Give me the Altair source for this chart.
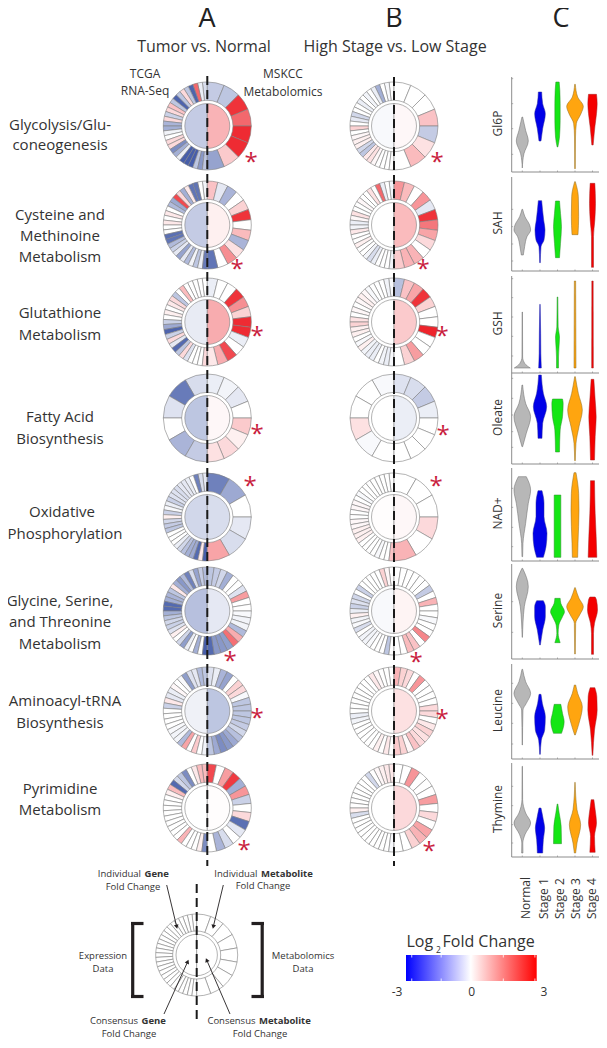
import math
import altair as alt
import pandas as pd

FONT = "Open Sans"
TXT = "#333333"

# ---------- donut values (log2 fold change) ----------
# gene lists run from the top of the left half down; metabolite lists from the top of the right half down
pathways = ["glyc", "cys", "gsh", "fa", "oxphos", "gly", "trna", "pyr"]

A_gene = {
 "glyc": [-0.6,-0.3,2.0,-2.7,-1.0,0.5,-1.0,-2.7,-1.0,0.8,0.5,-0.8,0.5,-1.3,-1.4,-0.2,0,0.5,0.5,-2.0,-1.4,-0.3,-2.8,-2.8,-2.8,-1.0,-1.8,-1.0],
 "cys": [-0.2,0,-2.4,-2.4,0.3,-1.4,0.5,2.4,-1.5,-1.2,0,0.3,0,0.3,0,0,-2.5,-2.4,-1.2,-0.8,-0.4,-1.6,-0.4,-1.2,-0.2,-1.0,-0.3,-2.3],
 "gsh": [0,0,0,0,0,0.9,0,-1.0,0.5,0.3,0,0.2,0,-0.8,-1.5,-2.7,-0.8,0.5,-0.4,-2.6,-1.0,0.5,-0.5,0,0,0,0.5],
 "fa": [-0.6,-2.3,-0.5,0,-1.3,-0.9],
 "oxphos": [-0.4,-0.6,-2.2,0,-0.3,-0.4,-0.4,-0.6,-0.5,-0.5,-0.8,-0.3,-0.1,-0.8,0.2,-0.7,-0.9,-1.0,0,0,0,-0.3,-0.7,-1.1,-1.4,-1.5,-2.6,0.3,-2.8],
 "gly": [-1.2,-0.9,-1.6,-0.6,-2.2,-1.2,-1.8,-1.4,0.3,-1.0,-1.3,-1.4,-2.6,-2.6,-1.4,-1.0,-0.7,-0.8,-0.5,0.2,0,-0.7,-1.7,-0.3,0,-1.4,0,-2.8],
 "trna": [-1.0,-1.2,-0.4,-0.5,-1.7,-0.1,0,0.1,-0.3,-0.4,0.3,-0.8,0,0,0,0,-0.1,-0.2,-0.2,-1.2,1.2,0,0.7,0,-0.2],
 "pyr": [0.9,0.9,0.3,0,-2.0,-1.0,-0.7,-2.6,0.9,0.2,0,0,0,0,0,0,0,0,0,1.0,0,0,0,0.2,-2.0],
}
A_met = {
 "glyc": [-0.9,-1.0,2.7,2.0,2.8,2.8,0.7,-1.6],
 "cys": [0.8,-0.4,-1.3,0,0.6,2.7,0,0.9,-1.3,0.4,1.5,0,-2.4],
 "gsh": [-0.3,0,0,2.7,1.5,0.6,2.8,2.8,-0.3,0,2.4,1.1,0.3],
 "fa": [-0.3,-0.2,-0.4,0,0.7,0.2,0.5,0.4],
 "oxphos": [-2.2,-1.5,0,-0.4,-0.6,1.2],
 "gly": [-1.0,-0.9,-0.7,-1.4,0,0,-0.5,1.3,0,0,-0.1,-0.2,-0.2,-1.2,1.1,1.9,-1.7,-1.8,-1.8,-2.6],
 "trna": [-0.5,-0.3,-1.3,-1.6,0,0.6,0.5,-0.1,-1.0,-1.0,-1.0,-1.0,-0.9,-0.7,-1.1,-1.5,-1.8,-2.0,-1.5,-1.0],
 "pyr": [2.4,0,1.3,2.6,-1.4,1.4,-0.8,0,0.5,-2.5,-0.4,0,-0.6,-1.3,0],
}
A_cons = {"glyc": (-0.9,1.0), "cys": (-0.9,0.2), "gsh": (-0.35,1.1), "fa": (-1.0,0.1),
          "oxphos": (-0.7,-0.6), "gly": (-1.1,-0.4), "trna": (-0.25,-1.0), "pyr": (0,0.03)}

B_gene = {
 "glyc": [0,-0.1,0,-1.4,-0.3,0,-0.2,0,-0.3,0,0,-0.7,-0.4,0,0.6,0,0.1,0.2,0.2,-0.7,-1.0,0.3,0.4,0.1,0,0,0,0],
 "cys": [-0.2,0,-0.3,2.0,0,0.4,0,0,0.1,0,0,0.4,0.1,-0.3,-0.2,0.3,0,0,0.2,0,0,-0.2,-0.6,-0.3,0,0,0,-0.2],
 "gsh": [-0.1,-0.2,0,0,0,-0.1,0.1,0.2,0.1,0,0.1,0,0.4,0.6,0.2,0.2,0,-0.1,0.2,-0.2,-0.3,-0.3,0,-0.2,-0.3,-0.1],
 "fa": [-0.1,0,0,0.4,-0.1,0],
 "oxphos": [0,0,0,0,0,0,0,0,-0.1,0,0.1,0.1,0,0,0.1,0.1,0.2,0.2,0.2,0,0,0,0,-0.1,0,0,0.8],
 "gly": [0,0.1,0.6,0,0,0,0,0,-0.8,0,-0.7,-0.5,-0.8,-0.3,0.2,-0.2,-0.1,-0.6,0,-0.2,-0.2,-0.1,0,0,0,-1.0,0],
 "trna": [0,0,0,0.1,0.3,0,0,0,0,0,0,0,0,-0.3,-0.2,0,0,0,0,0,0,0.2,0,0.3,0],
 "pyr": [0.3,0.3,0.2,0.1,0,-0.7,0,0,0,0,0,0,0,0.2,-0.6,0,0,0,0,0,0,0,0,0,0,-0.1],
}
B_met = {
 "glyc": [0,0,0,0.8,-0.9,0.4,0.9,0],
 "cys": [1.4,0.9,0,1.4,-0.4,2.7,1.8,1.2,0.5,0,1.0,1.0,0.7],
 "gsh": [-1.1,0.8,1.2,2.7,0.6,0,0,2.9,0,0,1.3,0.6,0],
 "fa": [-0.5,-0.6,-0.9,-0.3,0,0,0,0],
 "oxphos": [0,0,0,0.5,0,1.0],
 "gly": [0,0,0,0,0,0,-0.9,0,1.0,0,0,-0.1,0,0,1.6,0,0.8,0.9,0,0],
 "trna": [1.0,0.6,0.5,0,1.4,0,0,0,0,0.5,0.5,0,0.3,0.6,0.4,0.5,0.8,0.1,0.6,0.7],
 "pyr": [0,0,1.4,0,0,0,1.3,0,0.5,0,1.2,1.0,0.6,0,0],
}
B_cons = {"glyc": (-0.1,0.1), "cys": (0,0.9), "gsh": (0,0.7), "fa": (0,-0.3),
          "oxphos": (0.03,0.1), "gly": (-0.1,0.15), "trna": (0,0.4), "pyr": (0,0.5)}

row_y = [126, 225, 322, 418, 517, 611, 711, 808]
A_X, B_X = 207.3, 394.0
R_OUT, R_RING, R_CORE = 44.0, 25.7, 22.5

def wedges(cx, cy, gene, met, cons, r_out=R_OUT, r_ring=R_RING, r_core=R_CORE):
    w, c = [], []
    n = len(gene)
    for i, v in enumerate(gene):
        w.append(dict(cx=cx, cy=cy, t0=2*math.pi-(i+1)*math.pi/n, t1=2*math.pi-i*math.pi/n, r0=r_out, r1=r_ring, v=v))
    m = len(met)
    for i, v in enumerate(met):
        w.append(dict(cx=cx, cy=cy, t0=i*math.pi/m, t1=(i+1)*math.pi/m, r0=r_out, r1=r_ring, v=v))
    c.append(dict(cx=cx, cy=cy, t0=math.pi, t1=2*math.pi, r0=r_core, r1=0, v=cons[0]))
    c.append(dict(cx=cx, cy=cy, t0=0, t1=math.pi, r0=r_core, r1=0, v=cons[1]))
    return w, c

ring, core = [], []
for k, p in enumerate(pathways):
    for cx, G, M, C in ((A_X, A_gene, A_met, A_cons), (B_X, B_gene, B_met, B_cons)):
        w, c = wedges(cx, row_y[k], G[p], M[p], C[p])
        ring += w
        core += c
w, c = wedges(196.7, 955, [0]*27, [0]*9, (0, 0), 41, 24, 20.7)
ring += w
core += c

# ---------- violins: (abundance level, density) pairs ----------
panel_names = ["Gl6P", "SAH", "GSH", "Oleate", "NAD+", "Serine", "Leucine", "Thymine"]
panel_top = [77, 177, 276, 373, 468, 564, 664, 763]
panel_bottom = [172, 271, 373, 464, 561, 659, 759, 857]
panel_ticks = [[280,205,130,53],[185,133,81,30],[283,226,168,110,51],[257,197,147,97,50],
               [218,161,101,43],[172,80],[227,167,107,45],[212,154,97,42]]
stages = ["Normal", "Stage 1", "Stage 2", "Stage 3", "Stage 4"]
stage_fill = ["#b7b7b7", "#0000e8", "#14e614", "#ffa50f", "#f40000"]
stage_edge = ["#666666", "#2a2a9a", "#2a8a2a", "#8a6a20", "#a02020"]
stage_x = [522.3, 540.0, 557.5, 575.0, 592.5]

violins = [
 [[(12,0),(55,5),(93,18),(125,10),(165,1)],
  [(93,3),(130,8),(175,16),(205,8),(240,5)],
  [(75,1),(105,6),(155,8),(205,8),(245,7),(270,5)],
  [(10,1),(105,1.5),(145,4),(175,18),(197,25),(225,8),(263,1)],
  [(81,2),(135,7),(175,12),(205,14),(233,12)]],
 [[(48,3),(73,7),(103,14),(123,25),(138,22),(163,8),(185,1)],
  [(25,1),(73,3),(93,12),(123,15),(153,11),(211,5)],
  [(40,6),(83,9),(133,12),(173,9),(210,6)],
  [(109,9),(163,11),(223,10),(268,1)],
  [(11,3),(103,3),(153,7),(203,9),(263,7)]],
 [[(15,24),(28,8),(48,1),(183,0.5)],
  [(15,4),(58,2.5),(118,2),(206,0.5)],
  [(15,3),(48,3),(108,6),(138,2),(228,1)],
  [(15,3),(276,2)],
  [(15,2.5),(276,2)]],
 [[(52,1),(92,12),(142,25),(182,10),(237,1)],
  [(77,6),(122,8),(172,20),(212,10),(267,4)],
  [(36,6),(102,8),(142,15),(182,17),(195,15)],
  [(10,1),(62,3),(112,12),(162,22),(212,10),(262,1)],
  [(12,6),(82,8),(142,11),(192,8),(254,4)]],
 [[(13,1),(53,2),(113,10),(173,18),(213,25),(253,12)],
  [(11,10),(43,18),(83,21),(133,12),(173,12),(211,6)],
  [(11,10),(198,10)],
  [(11,8),(53,9),(153,12),(203,11),(265,3)],
  [(11,13),(73,11),(143,8),(241,6)]],
 [[(65,0.5),(157,6),(217,18),(272,1)],
  [(42,1),(87,8),(127,16),(157,16),(175,10)],
  [(49,8),(77,2),(102,4),(127,15),(142,21),(167,10),(182,8)],
  [(15,1),(107,2),(132,14),(157,25),(182,12),(214,1)],
  [(14,3),(77,3),(107,6),(147,15),(177,12),(186,8)]],
 [[(42,0.5),(147,2),(167,12),(197,25),(232,10),(269,1)],
  [(14,1),(57,4),(87,14),(127,16),(167,7),(194,3)],
  [(77,12),(112,20),(137,15),(164,10)],
  [(72,1),(107,12),(157,22),(197,8),(222,2)],
  [(11,1),(87,6),(147,14),(187,13),(214,7)]],
 [[(12,2),(42,1.5),(67,8),(102,25),(132,10),(172,1),(272,0.5)],
  [(12,8),(52,10),(87,14),(112,10),(147,3)],
  [(40,12),(92,11),(132,5),(159,1)],
  [(12,2),(42,6),(97,17),(142,6),(224,0.5)],
  [(14,8),(62,6),(102,12),(142,8),(172,4)]],
]

# ---------- scales ----------
XS = alt.Scale(domain=[8, 599], nice=False, zero=False)
YS = alt.Scale(domain=[1040, 8], nice=False, zero=False)
FC = alt.Scale(domain=[-3, 0, 3], range=["#3a53a4", "#ffffff", "#ed1c24"], clamp=True, interpolate="rgb")

def X(f="x"): return alt.X(f, type="quantitative", scale=XS, axis=None)
def Y(f="y"): return alt.Y(f, type="quantitative", scale=YS, axis=None)

def arcs(rows, sw, stroke):
    return alt.Chart(pd.DataFrame(rows)).mark_arc(stroke=stroke, strokeWidth=sw).encode(
        x=X("cx"), y=Y("cy"),
        theta=alt.Theta("t0:Q", scale=None, stack=None), theta2=alt.Theta2("t1:Q"),
        radius=alt.Radius("r0:Q", scale=None), radius2=alt.Radius2("r1:Q"),
        color=alt.Color("v:Q", scale=FC, legend=None))

def segs(rows, color, width, dash=None):
    kw = dict(color=color, strokeWidth=width)
    if dash:
        kw["strokeDash"] = dash
    return alt.Chart(pd.DataFrame(rows)).mark_rule(**kw).encode(
        x=X("x"), y=Y("y"), x2=alt.X2("x2"), y2=alt.Y2("y2"))

def txt(rows, size, align="center", weight="normal", angle=0, color=TXT, baseline="middle"):
    kw = dict(font=FONT, fontSize=size, align=align, fontWeight=weight, color=color, baseline=baseline)
    if angle:
        kw["angle"] = angle
    df = pd.DataFrame(rows, columns=["t", "x", "y"])
    return alt.Chart(df).mark_text(**kw).encode(x=X("x"), y=Y("y"), text="t:N")

layers = [arcs(ring, 0.6, "#7f7f7f"), arcs(core, 0.6, "#7f7f7f")]

# dashed centre lines
layers.append(segs([dict(x=A_X, x2=A_X, y=76, y2=866), dict(x=B_X, x2=B_X, y=77, y2=866),
                    dict(x=196.7, x2=196.7, y=884, y2=1022)], "#1a1a1a", 2, [9, 5]))

# asterisks
aster = [("*",251,158),("*",237,265),("*",257,332),("*",257,430),("*",250,482),("*",230,657),("*",257,714),("*",244,846),
         ("*",437,158),("*",423,265),("*",442,332),("*",443,431),("*",436,482),("*",416,658),("*",442,715),("*",429,847)]
layers.append(txt([(a, b, c + 5) for a, b, c in aster], 24, color="#c9213e"))

# titles
layers.append(txt([("A",207,27),("B",394,27),("C",561,27)], 27, color="#222222", baseline="alphabetic"))
layers.append(txt([("Tumor vs. Normal",204,47),("High Stage vs. Low Stage",395,47)], 16))
layers.append(txt([("TCGA",145,74),("RNA-Seq",145,91),("MSKCC",283,74),("Metabolomics",283,92)], 12))

row_labels = [("Glycolysis/Glu-",60,125),("coneogenesis",60,145),
 ("Cysteine and",60,215),("Methinoine",60,236),("Metabolism",60,257),
 ("Glutathione",60,313),("Metabolism",60,335),
 ("Fatty Acid",60,417),("Biosynthesis",60,439),
 ("Oxidative",62,512),("Phosphorylation",65,534),
 ("Glycine, Serine,",60,601),("and Threonine",60,622),("Metabolism",60,644),
 ("Aminoacyl-tRNA",65,701),("Biosynthesis",60,723),
 ("Pyrimidine",60,789),("Metabolism",60,810)]
layers.append(txt(row_labels, 15))

# violin panels
AX_X = 511.7
ax_rows, tick_rows = [], []
for i in range(8):
    ax_rows.append(dict(x=AX_X, x2=AX_X, y=panel_top[i], y2=panel_bottom[i]))
    ax_rows.append(dict(x=AX_X, x2=599, y=panel_bottom[i], y2=panel_bottom[i]))
    for t in panel_ticks[i]:
        yy = panel_bottom[i] - t / 3
        tick_rows.append(dict(x=AX_X, x2=AX_X + 1.5, y=yy, y2=yy))
    for sx in stage_x:
        tick_rows.append(dict(x=sx, x2=sx, y=panel_bottom[i] - 1.5, y2=panel_bottom[i]))
layers.append(segs(ax_rows, "#808080", 0.9))
layers.append(segs(tick_rows, "#808080", 0.6))

for s in range(5):
    rows = []
    for p in range(8):
        for lev, dens in violins[p][s]:
            rows.append(dict(panel=p, y=panel_bottom[p] - lev / 3,
                             l=stage_x[s] - dens / 3, r=stage_x[s] + dens / 3))
    layers.append(alt.Chart(pd.DataFrame(rows)).mark_area(
        orient="horizontal", fill=stage_fill[s], stroke=stage_edge[s], strokeWidth=0.5, interpolate="monotone"
    ).encode(x=X("l"), x2=alt.X2("r"), y=Y("y"), detail="panel:N"))

layers.append(txt([(n, 498, (panel_top[i] + panel_bottom[i]) / 2 - 1) for i, n in enumerate(panel_names)], 12, angle=270))
layers.append(txt([(s, x, 919) for s, x in zip(stages, [526, 543.5, 559.5, 576, 591.5])], 12, align="left", angle=270))

# schematic
layers.append(segs([dict(x=132.7,x2=132.7,y=922,y2=998), dict(x=131,x2=143.5,y=923.5,y2=923.5), dict(x=131,x2=143.5,y=996.5,y2=996.5),
                    dict(x=262.2,x2=262.2,y=922,y2=998), dict(x=251.5,x2=264,y=923.5,y2=923.5), dict(x=251.5,x2=264,y=996.5,y2=996.5)],
                   "#231f20", 3.2))
arrows = [(166.7,885,176.7,926.7),(223.3,885,213.3,926.7),(164,1014,187.7,961.7),(230,1014,206.7,960)]
layers.append(segs([dict(x=a,y=b,x2=c,y2=d) for a,b,c,d in arrows], "#231f20", 0.9))
heads = [dict(x=c, y=d, a=math.degrees(math.atan2(c-a, b-d)) % 360) for a,b,c,d in arrows]
layers.append(alt.Chart(pd.DataFrame(heads)).mark_point(shape="triangle-up", filled=True, color="#231f20", size=22, opacity=1).encode(
    x=X("x"), y=Y("y"), angle=alt.Angle("a:Q", scale=None)))

layers.append(txt([("Fold Change",133,887),("Fold Change",263,886),("Fold Change",129,1033.5),("Fold Change",260,1033.5),
                   ("Expression",103,956),("Data",103,969),("Metabolomics",303,956),("Data",303,969)], 9.5))
layers.append(txt([("Individual",141,874),("Individual",257.5,874),("Consensus",138,1020.5),("Consensus",255.5,1020.5)], 9.5, align="right"))
layers.append(txt([("Gene",144.5,874),("Metabolite",261,874),("Gene",141.5,1020.5),("Metabolite",259,1020.5)], 9.5, align="left", weight="bold"))

# colour key
grad = alt.Gradient(gradient="linear", x1=0, x2=1, y1=0, y2=0, stops=[
    alt.GradientStop(offset=0, color="#0000ff"), alt.GradientStop(offset=0.495, color="#ffffff"),
    alt.GradientStop(offset=1, color="#ff0000")])
layers.append(alt.Chart(pd.DataFrame([dict(x=406, x2=536.7, y=955, y2=981)])).mark_rect(fill=grad).encode(
    x=X("x"), x2=alt.X2("x2"), y=Y("y"), y2=alt.Y2("y2")))
key_ticks = []
for v in [-2.75, -1.4, 0, 1.45, 2.9]:
    xx = 471.7 + v * 21.8
    key_ticks += [dict(x=xx, x2=xx, y=955, y2=957.5), dict(x=xx, x2=xx, y=978.5, y2=981)]
layers.append(segs(key_ticks, "#ffffff", 0.8))
layers.append(txt([("Log",406.5,941.5),("Fold Change",442.5,941.5)], 16, align="left"))
layers.append(txt([("2",436,950)], 8.5, align="left"))
layers.append(txt([("-3",397,992),("0",471.7,992),("3",544,992)], 12))

chart = alt.layer(*layers).properties(
    width=591, height=1032, padding=0, autosize="none"
).configure_view(stroke=None)

chart.save("out.html", embed_options={"renderer": "svg", "actions": False})
